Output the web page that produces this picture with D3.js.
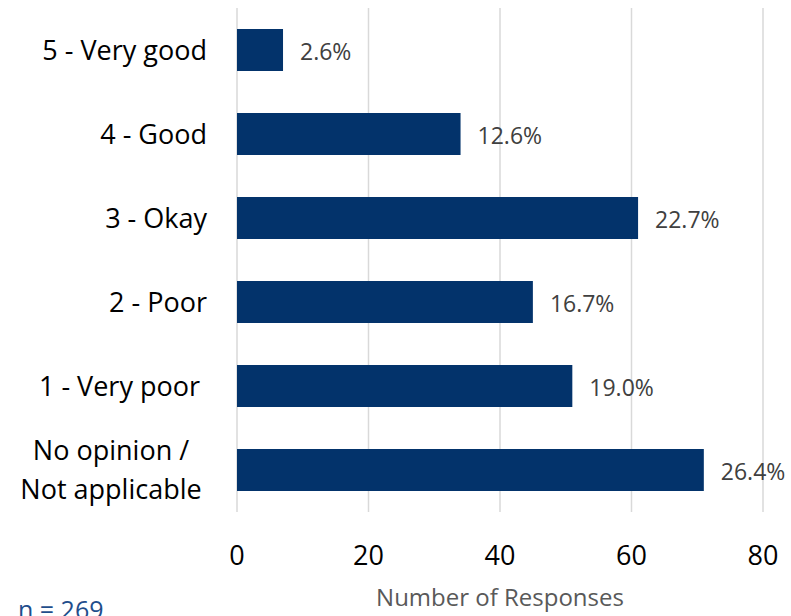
<!DOCTYPE html>
<html>
<head>
<meta charset="utf-8">
<script src="https://cdn.jsdelivr.net/npm/d3@7"></script>
<style>
  html, body { margin: 0; padding: 0; background: #fff; }
  svg text { font-family: "Open Sans", "Noto Sans", sans-serif; white-space: pre; }
</style>
</head>
<body>
<svg id="chart" width="791" height="616"></svg>
<script>
// Survey ratings, top to bottom
const categories = ["5 - Very good", "4 - Good", "3 - Okay", "2 - Poor", "1 - Very poor ", "No opinion /\nNot applicable"];
const responses = [7, 34, 61, 45, 51, 71];
const percentLabels = ["2.6%", "12.6%", "22.7%", "16.7%", "19.0%", "26.4%"];
const xTicks = [0, 20, 40, 60, 80];
const totalLabel = "n = 269";
const axisTitle = "Number of Responses";

const svg = d3.select("#chart");
const margin = { left: 237, right: 28, top: 8, bottom: 104 };
const W = 791, H = 616;

const x = d3.scaleLinear().domain([0, 80]).range([margin.left, W - margin.right]);
const y = d3.scaleBand().domain(categories).range([margin.top, H - margin.bottom]).paddingInner(0.5).paddingOuter(0.25);

// vertical gridlines
svg.append("g").selectAll("line").data(xTicks).join("line")
  .attr("x1", d => x(d)).attr("x2", d => x(d))
  .attr("y1", margin.top).attr("y2", H - margin.bottom)
  .attr("stroke", "#d9d9d9").attr("stroke-width", 1.5);

// bars
svg.append("g").selectAll("rect").data(categories).join("rect")
  .attr("x", x(0))
  .attr("y", d => y(d))
  .attr("width", (d, i) => x(responses[i]) - x(0))
  .attr("height", y.bandwidth())
  .attr("fill", "#03336b");

// value labels
svg.append("g").selectAll("text").data(categories).join("text")
  .attr("x", (d, i) => x(responses[i]) + 17)
  .attr("y", d => y(d) + y.bandwidth() / 2 + 10)
  .attr("font-size", 23)
  .attr("fill", "#404040")
  .text((d, i) => percentLabels[i]);

// category labels (multi-line labels are centred, single lines right-aligned)
const cat = svg.append("g").selectAll("text").data(categories).join("text")
  .attr("font-size", 27)
  .attr("fill", "#000");
cat.each(function(d) {
  const lines = d.split("\n");
  const t = d3.select(this);
  const cy = y(d) + y.bandwidth() / 2;
  if (lines.length === 1) {
    t.attr("x", 207).attr("y", cy + 10).attr("text-anchor", "end").text(d);
  } else {
    t.attr("text-anchor", "middle");
    lines.forEach((ln, k) => {
      t.append("tspan")
        .attr("x", 111)
        .attr("y", cy - 10 + k * 39)
        .text(ln);
    });
  }
});

// x tick labels
svg.append("g").selectAll("text").data(xTicks).join("text")
  .attr("x", d => x(d))
  .attr("y", 565)
  .attr("text-anchor", "middle")
  .attr("font-size", 27)
  .attr("fill", "#000")
  .text(d => d);

// axis title
svg.append("text")
  .attr("x", 500).attr("y", 606)
  .attr("text-anchor", "middle")
  .attr("font-size", 24)
  .attr("fill", "#595959")
  .text(axisTitle);

// sample size note
svg.append("text")
  .attr("x", 18).attr("y", 619)
  .attr("font-size", 25)
  .attr("fill", "#1f4e8c")
  .text(totalLabel);
</script>
</body>
</html>
